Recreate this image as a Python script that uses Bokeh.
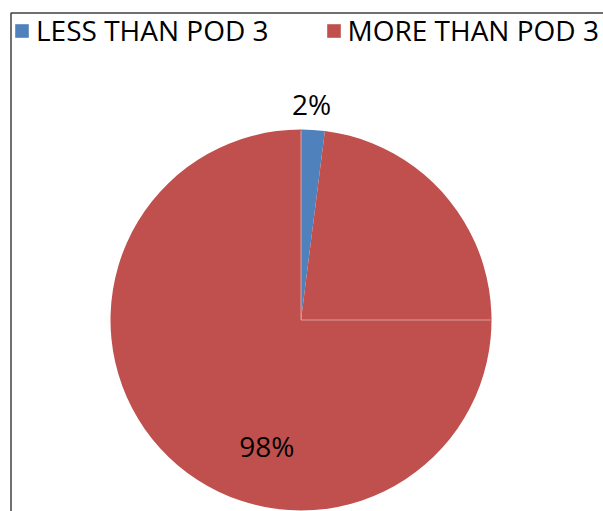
import math
from bokeh.plotting import figure
from bokeh.models import ColumnDataSource, Range1d, Legend, LegendItem
from bokeh.core.properties import value
from bokeh.embed import file_html
from bokeh.resources import INLINE

# ---- data ----
categories = ["LESS THAN POD 3", "MORE THAN POD 3"]
values = [2, 98]
label_texts = ["2%", "98%"]
colors = ["#4F81BD", "#C0504D"]

# ---- layout ----
W, H = 603, 511
cx, cy, R = 300.5, 511 - 319.5, 190.5
FONT = "Open Sans"
FS = "28px"

total = float(sum(values))
# clockwise from 12 o'clock
cum = [0.0]
for v in values:
    cum.append(cum[-1] + v / total)
start_angles = [math.pi / 2 - 2 * math.pi * cum[i + 1] for i in range(len(values))]
end_angles = [math.pi / 2 - 2 * math.pi * cum[i] for i in range(len(values))]
mid = [math.pi / 2 - 2 * math.pi * (cum[i] + cum[i + 1]) / 2 for i in range(len(values))]

src = ColumnDataSource(dict(start=start_angles, end=end_angles, color=colors, cat=categories))

p = figure(width=W, height=H, output_backend="svg", toolbar_location=None,
           x_range=Range1d(0, W), y_range=Range1d(0, H),
           x_axis_location=None, y_axis_location=None,
           min_border=0, min_border_left=0, min_border_right=0,
           min_border_top=0, min_border_bottom=0)
p.grid.visible = False
p.outline_line_color = None
p.background_fill_color = "white"

# chart border (left and top edges visible)
p.line(x=[10.5, 10.5, W + 5], y=[-5, H - 12.5, H - 12.5],
       line_color="#404040", line_width=1.5)

r = p.wedge(x=cx, y=cy, radius=R, start_angle="start", end_angle="end",
            fill_color="color", line_color=None, source=src)

# faint slice guide lines seen in the original rendering
p.ray(x=[cx, cx], y=[cy, cy], length=[R - 1, R - 1], angle=[0, math.pi / 2],
      line_color="white", line_alpha=0.3, line_width=1.5)

# data labels
lab_r = [216, 131]
lab_shift = [math.radians(0.8), math.radians(-11.5)]
lx = [cx + lab_r[i] * math.cos(mid[i] + lab_shift[i]) for i in range(2)]
ly = [cy + lab_r[i] * math.sin(mid[i] + lab_shift[i]) for i in range(2)]
p.text(x=lx, y=ly, text=label_texts, text_align="center", text_baseline="middle",
       text_font=value(FONT), text_font_size=FS, text_color="#000000")

legend = Legend(items=[LegendItem(label=categories[0], renderers=[r], index=0),
                       LegendItem(label=categories[1], renderers=[r], index=1)],
                orientation="horizontal", margin=0, padding=0,
                glyph_width=17, glyph_height=17, label_standoff=6, spacing=56,
                label_text_font=FONT, label_text_font_size=FS,
                label_text_color="#000000", border_line_alpha=0,
                background_fill_alpha=0)
legend.location = (13, H - 49)
p.add_layout(legend)

open("out.html", "w").write(file_html(p, INLINE))
